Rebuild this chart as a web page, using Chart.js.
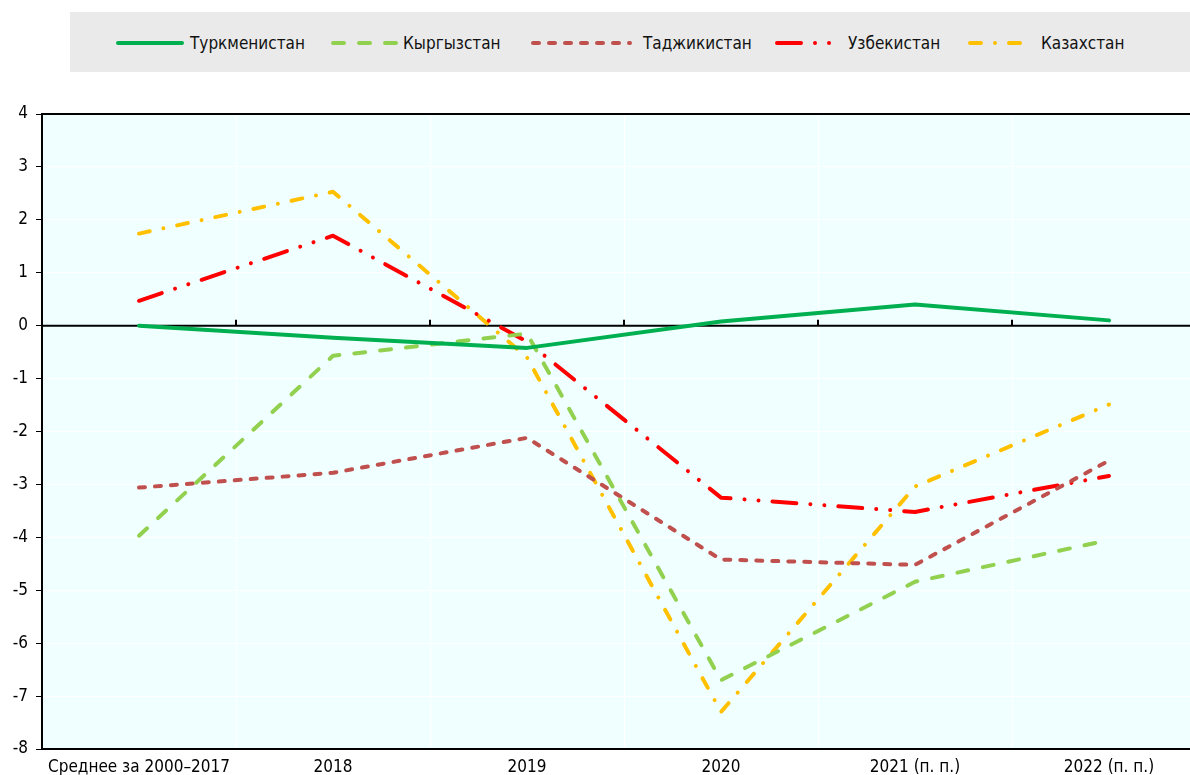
<!DOCTYPE html>
<html>
<head>
<meta charset="utf-8">
<script src="https://cdn.jsdelivr.net/npm/chart.js@4"></script>
<style>
  html, body { margin: 0; padding: 0; background: #fff; overflow: hidden; }
  #wrap { position: relative; width: 1190px; height: 775px; overflow: hidden; font-family: "Liberation Sans Narrow", "Arial Narrow", "DejaVu Sans Condensed", sans-serif; }
  #legend { position: absolute; left: 70px; top: 12px; width: 1120px; height: 60px; background: #EAEAEA; }
  .lg-line { position: absolute; top: 24px; }
  .lg-text { position: absolute; top: 32px; font-size: 17px; color: #111; line-height: 20px; }
  canvas#c { position: absolute; left: 0; top: 0; }
</style>
</head>
<body>
<div id="wrap">
  <canvas id="c" width="1206" height="775"></canvas>
  <div id="legend"></div>
</div>
<script>
const categories = ["Среднее за 2000–2017", "2018", "2019", "2020", "2021 (п. п.)", "2022 (п. п.)"];
const seriesNames = ["Туркменистан", "Кыргызстан", "Таджикистан", "Узбекистан", "Казахстан"];
const turkmenistan = [0.0, -0.23, -0.42, 0.08, 0.40, 0.10];
const kyrgyzstan   = [-3.97, -0.57, -0.15, -6.70, -4.84, -4.05];
const tajikistan   = [-3.06, -2.78, -2.12, -4.42, -4.52, -2.55];
const uzbekistan   = [0.47, 1.70, -0.30, -3.25, -3.52, -2.84];
const kazakhstan   = [1.74, 2.53, -0.60, -7.30, -3.04, -1.49];
const yTicks = [4, 3, 2, 1, 0, -1, -2, -3, -4, -5, -6, -7, -8];

const colors = ["#00B050", "#92D050", "#C0504D", "#FF0000", "#FFC000"];
const dashes = [[], [11, 15], [6, 10], [24, 14, 0.01, 14, 0.01, 14], [11, 14, 0.01, 14]];
const values = [turkmenistan, kyrgyzstan, tajikistan, uzbekistan, kazakhstan];

const FONT = '"Liberation Sans Narrow", "Arial Narrow", "DejaVu Sans Condensed", sans-serif';

// HTML legend
const legendPos = [
  {x1: 48, x2: 112, tx: 120},
  {x1: 263, x2: 326, tx: 333},
  {x1: 463, x2: 560, tx: 573},
  {x1: 707, x2: 763, tx: 778},
  {x1: 900, x2: 955, tx: 971}
];
const lg = document.getElementById('legend');
seriesNames.forEach((n, i) => {
  const p = legendPos[i];
  const w = p.x2 - p.x1 + 8;
  const c = document.createElement('canvas');
  c.width = w; c.height = 12;
  c.className = 'lg-line';
  c.style.left = (p.x1 - 4) + 'px';
  c.style.top = '25px';
  const g = c.getContext('2d');
  g.strokeStyle = colors[i]; g.lineWidth = 4; g.lineCap = 'round';
  g.setLineDash(dashes[i]);
  g.beginPath(); g.moveTo(4, 6); g.lineTo(w - 4, 6); g.stroke();
  lg.appendChild(c);
  const t = document.createElement('div');
  t.className = 'lg-text';
  t.style.left = p.tx + 'px';
  t.style.top = '21px';
  t.textContent = n;
  lg.appendChild(t);
});

const bgPlugin = {
  id: 'bg',
  beforeDraw(chart) {
    const {ctx, chartArea: a} = chart;
    ctx.save();
    ctx.fillStyle = '#F0FFFF';
    ctx.fillRect(a.left, a.top, a.right - a.left, a.bottom - a.top);
    ctx.restore();
  },
  beforeDatasetsDraw(chart) {
    const {ctx, chartArea: a, scales} = chart;
    const y0 = scales.y.getPixelForValue(0);
    ctx.save();
    ctx.strokeStyle = '#000';
    ctx.lineWidth = 2;
    ctx.beginPath();
    ctx.moveTo(a.left, y0); ctx.lineTo(a.right, y0);
    ctx.stroke();
    // top border
    ctx.beginPath();
    ctx.moveTo(a.left - 1, a.top); ctx.lineTo(a.right, a.top);
    ctx.stroke();
    for (let i = 0; i < categories.length - 1; i++) {
      const x = Math.round((scales.x.getPixelForValue(i) + scales.x.getPixelForValue(i + 1)) / 2);
      ctx.beginPath();
      ctx.moveTo(x, y0); ctx.lineTo(x, y0 - 6);
      ctx.stroke();
    }
    ctx.restore();
  }
};

new Chart(document.getElementById('c'), {
  type: 'line',
  data: {
    labels: categories,
    datasets: seriesNames.map((n, i) => ({
      label: n,
      data: values[i],
      borderColor: colors[i],
      backgroundColor: colors[i],
      borderWidth: 4,
      borderDash: dashes[i],
      borderCapStyle: 'round',
      borderJoinStyle: 'round',
      pointRadius: 0,
      tension: 0,
      fill: false
    }))
  },
  options: {
    responsive: false,
    animation: false,
    layout: { padding: { top: 114, right: 0, bottom: 0, left: 0 } },
    plugins: { legend: { display: false }, tooltip: { enabled: false } },
    scales: {
      x: {
        offset: true,
        grid: { offset: true, color: '#FFFFFF', lineWidth: 1, tickLength: 0, drawTicks: false },
        border: { color: '#000', width: 2 },
        ticks: { color: '#000', font: { family: FONT, size: 17 }, padding: 8, maxRotation: 0, autoSkip: false },
        afterFit(s) { s.height = 26; }
      },
      y: {
        min: -8, max: 4,
        afterBuildTicks(s) { s.ticks = yTicks.map(v => ({ value: v })); },
        grid: { color: '#FFFFFF', lineWidth: 1, tickColor: '#000', tickLength: 6 },
        border: { color: '#000', width: 2 },
        ticks: { color: '#000', font: { family: FONT, size: 17 }, padding: 8 },
        afterFit(s) { s.width = 42; }
      }
    }
  },
  plugins: [bgPlugin]
});
</script>
</body>
</html>
